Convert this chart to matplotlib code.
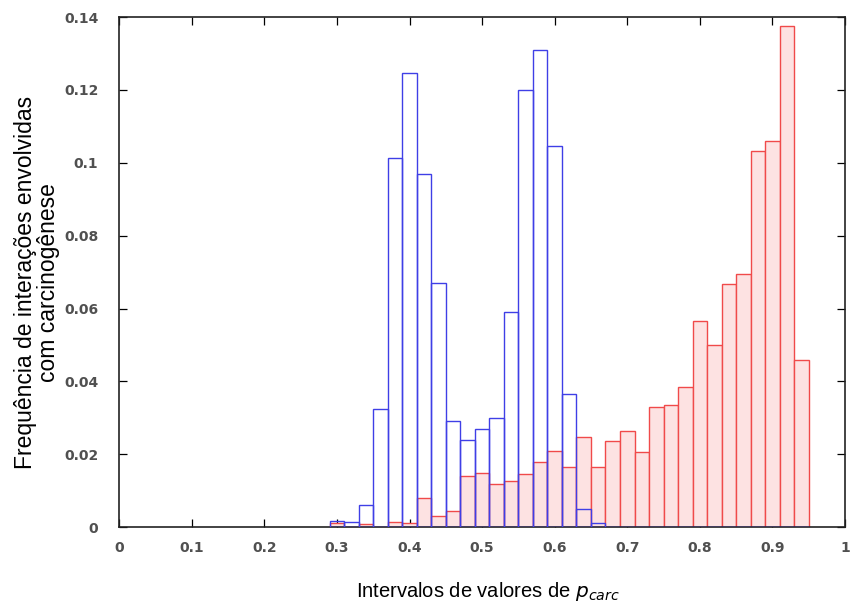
import numpy as np
import matplotlib
matplotlib.use("Agg")
import matplotlib.pyplot as plt

# bin lower edges (width 0.02)
bin_start = [0.29, 0.31, 0.33, 0.35, 0.37, 0.39, 0.41, 0.43, 0.45, 0.47,
             0.49, 0.51, 0.53, 0.55, 0.57, 0.59, 0.61, 0.63, 0.65, 0.67,
             0.69, 0.71, 0.73, 0.75, 0.77, 0.79, 0.81, 0.83, 0.85, 0.87,
             0.89, 0.91, 0.93]
bin_width = 0.02

# blue series (hollow bars)
freq_blue = [0.0016, 0.0015, 0.006, 0.0324, 0.1013, 0.1246, 0.097, 0.067, 0.029, 0.024,
             0.027, 0.030, 0.059, 0.120, 0.131, 0.1046, 0.0365, 0.005, 0.001, 0.0,
             0.0, 0.0, 0.0, 0.0, 0.0, 0.0, 0.0, 0.0, 0.0, 0.0,
             0.0, 0.0, 0.0]

# red series (pink filled bars)
freq_red = [0.0012, 0.0, 0.0008, 0.0, 0.0013, 0.001, 0.008, 0.003, 0.0044, 0.014,
            0.0148, 0.0118, 0.0126, 0.0145, 0.018, 0.021, 0.0165, 0.0248, 0.0165, 0.0237,
            0.0263, 0.0206, 0.033, 0.0336, 0.0384, 0.0566, 0.050, 0.0666, 0.0694, 0.1033,
            0.106, 0.1374, 0.0459]

x_ticks = [0, 0.1, 0.2, 0.3, 0.4, 0.5, 0.6, 0.7, 0.8, 0.9, 1]
x_ticklabels = ["0", "0.1", "0.2", "0.3", "0.4", "0.5", "0.6", "0.7", "0.8", "0.9", "1"]
y_ticks = [0, 0.02, 0.04, 0.06, 0.08, 0.10, 0.12, 0.14]
y_ticklabels = ["0", "0.02", "0.04", "0.06", "0.08", "0.1", "0.12", "0.14"]

fig = plt.figure(figsize=(8.51, 6.08), dpi=100)
ax = fig.add_axes([0.140, 0.133, 0.853, 0.839])

# red bars: fill then outline
ax.bar(bin_start, freq_red, width=bin_width, align="edge",
       color="#fde2e2", edgecolor="#f04a4a", linewidth=1.0, zorder=2)
# blue bars: outline only
ax.bar(bin_start, freq_blue, width=bin_width, align="edge",
       fill=False, edgecolor="#3f3fe6", linewidth=1.0, zorder=3)

ax.set_xlim(0, 1)
ax.set_ylim(0, 0.14)
ax.set_xticks(x_ticks)
ax.set_xticklabels(x_ticklabels)
ax.set_yticks(y_ticks)
ax.set_yticklabels(y_ticklabels)
ax.tick_params(direction="in", top=True, right=True, length=6, width=0.9,
               colors="black", labelcolor="#505050", labelsize=10)
ax.tick_params(axis="y", pad=15)
ax.tick_params(axis="x", pad=10)
for lab in ax.get_xticklabels() + ax.get_yticklabels():
    lab.set_fontweight("bold")
for sp in ax.spines.values():
    sp.set_linewidth(1.2)
    sp.set_color("#222222")

ax.set_ylabel("Frequência de interações envolvidas\ncom carcinogênese",
              fontfamily="Liberation Sans", fontsize=16.5, linespacing=1.0)
ax.yaxis.set_label_coords(-0.081, 0.48)
ax.set_xlabel("Intervalos de valores de $p_{carc}$",
              fontfamily="Liberation Sans", fontsize=14.5)
ax.xaxis.set_label_coords(0.508, -0.103)

fig.savefig("out.png", dpi=100, facecolor="white")
